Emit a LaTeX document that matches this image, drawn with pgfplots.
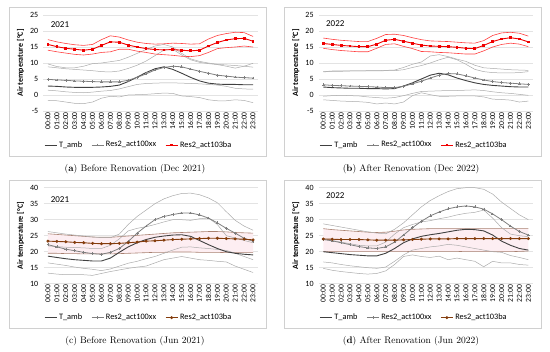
\documentclass[border=0pt]{standalone}
\usepackage{fontspec}
\usepackage{pgfplots}
\pgfplotsset{compat=1.18}
\usepackage{pgfplotstable}
\usepgfplotslibrary{fillbetween}
\newfontfamily\cf{Carlito}
\definecolor{tambc}{HTML}{404040}
\definecolor{xxc}{HTML}{7F7F7F}
\definecolor{bandc}{HTML}{ABABAB}
\definecolor{redc}{HTML}{F00000}
\definecolor{redbandc}{HTML}{FF4040}
\definecolor{brownc}{HTML}{843C0C}
\definecolor{brownbandc}{HTML}{A88070}
\definecolor{pinkc}{HTML}{FDEEF2}
\definecolor{gridc}{HTML}{E3E3E3}
\definecolor{framec}{HTML}{D0D0D0}

% columns: h T X R RU RL G1 G2 G3 G4
\pgfplotstableread{
h T X R RU RL G1 G2 G3 G4
0 2.8 4.9 15.8 17.3 14.0 9.7 8.8 1.5 -1.7
1 2.7 4.7 15.1 16.6 13.5 8.9 8.5 1.3 -1.8
2 2.5 4.6 14.6 16.1 13.1 8.5 8.2 1.0 -2.2
3 2.4 4.4 14.3 15.7 12.7 8.5 8.0 0.8 -2.6
4 2.4 4.3 14.0 15.5 12.5 9.0 7.8 0.7 -2.7
5 2.4 4.2 14.3 15.8 12.8 9.8 7.6 0.9 -2.2
6 2.5 4.1 15.5 17.3 13.3 10.0 7.3 1.2 -1.0
7 2.7 4.1 16.6 18.5 13.5 10.4 7.2 1.4 -0.4
8 3.1 4.1 16.5 18.1 14.3 10.8 7.5 1.9 -0.6
9 4.2 4.6 15.6 17.2 14.3 11.8 8.3 2.6 0.0
10 5.6 5.5 15.0 16.5 13.7 13.0 9.3 3.3 0.1
11 7.0 6.6 14.5 16.1 13.3 14.2 10.6 3.6 0.2
12 8.2 7.8 14.2 15.9 12.8 15.3 12.3 3.7 0.4
13 8.8 8.6 14.1 16.0 12.6 15.8 14.0 3.8 0.6
14 8.0 9.0 14.2 16.2 12.4 15.0 14.3 3.8 0.5
15 6.8 8.8 14.0 16.1 12.1 13.0 12.5 3.7 -0.3
16 5.5 8.1 13.8 15.9 12.0 11.3 11.0 3.6 -0.5
17 4.4 7.4 14.0 16.0 12.3 10.5 10.2 3.5 -0.8
18 3.7 6.8 15.3 17.5 13.3 10.0 9.8 3.3 -1.5
19 3.4 6.2 16.4 18.6 14.5 9.6 9.5 3.1 -1.8
20 3.3 5.9 17.2 19.2 14.8 9.4 9.0 2.7 -1.8
21 3.3 5.6 17.6 19.6 15.0 9.2 8.4 2.1 -1.5
22 3.2 5.4 17.7 19.5 15.3 9.0 9.0 1.9 -1.7
23 3.2 5.3 16.8 18.3 15.0 8.7 9.9 1.8 -2.4
}\tA
\pgfplotstableread{
h T X R RU RL G1 G2 G3 G4
0 2.5 3.2 16.1 17.8 14.6 7.3 7.2 -0.4 -1.5
1 2.3 3.0 15.8 17.4 14.2 7.5 7.4 -0.2 -1.7
2 2.2 2.9 15.5 17.1 13.9 7.5 7.4 -0.1 -1.9
3 2.1 2.8 15.3 16.9 13.7 7.5 7.5 -0.2 -2.0
4 2.1 2.7 15.1 16.7 13.5 7.5 7.5 -0.3 -2.1
5 2.0 2.6 15.1 16.7 13.5 7.6 7.5 -0.6 -2.3
6 2.0 2.5 15.9 17.7 14.6 7.6 7.5 -0.8 -2.8
7 1.9 2.3 17.1 18.9 15.8 7.7 7.6 -1.0 -2.5
8 2.0 2.3 17.4 19.0 16.0 7.8 7.6 -0.8 -2.8
9 2.8 2.7 16.8 18.6 15.2 8.6 7.9 -0.2 -2.2
10 3.8 3.5 16.2 17.9 14.5 9.6 8.6 0.5 -0.2
11 5.0 4.3 15.6 17.3 13.6 10.3 9.2 1.1 0.7
12 6.2 5.3 15.3 16.9 13.5 12.2 10.0 1.2 0.1
13 6.8 6.2 15.2 16.8 13.3 12.6 11.0 1.3 -0.4
14 6.3 6.7 15.1 16.7 13.2 12.0 11.8 1.4 -0.4
15 5.3 6.6 14.9 16.5 13.0 11.2 11.0 1.4 -0.3
16 4.5 6.0 14.6 16.3 12.8 10.5 9.6 1.5 -0.3
17 3.8 5.3 14.5 16.2 12.8 9.3 8.0 1.6 -0.3
18 3.3 4.7 15.5 17.0 13.8 8.5 7.3 1.4 -0.6
19 3.0 4.2 16.7 18.6 15.0 8.3 7.0 1.0 -1.3
20 2.8 3.9 17.5 19.4 15.8 8.1 6.9 0.7 -1.4
21 2.6 3.7 17.9 19.6 16.2 7.9 6.9 0.5 -1.6
22 2.5 3.5 17.5 19.3 15.9 7.8 7.0 0.2 -2.2
23 2.5 3.3 16.6 18.4 15.1 7.7 7.3 -0.1 -1.9
}\tB
\pgfplotstableread{
h T X R RU RL G1 G2 G3 G4
0 18.6 22.2 23.3 25.6 19.5 26.3 21.8 16.5 13.3
1 18.2 21.5 23.2 25.4 19.5 25.9 21.6 16.1 13.0
2 17.8 20.8 23.1 25.2 19.4 25.5 21.4 15.7 12.8
3 17.5 20.3 22.9 25.0 19.4 25.2 21.3 15.2 12.8
4 17.3 19.8 22.8 24.8 19.3 24.9 21.2 14.8 12.8
5 17.1 19.4 22.6 24.6 19.3 24.6 21.0 14.5 12.6
6 17.1 19.2 22.5 24.5 19.3 24.4 21.0 14.1 13.2
7 18.0 19.8 22.5 24.5 19.3 24.4 22.0 14.6 13.8
8 19.8 21.0 22.6 24.7 19.4 25.5 24.0 15.5 14.3
9 21.5 23.2 22.8 24.9 19.5 28.5 26.5 16.4 14.8
10 22.8 25.8 23.0 25.1 19.6 31.0 27.3 17.0 15.2
11 23.8 28.0 23.3 25.3 19.7 33.0 27.8 17.8 15.5
12 24.5 30.0 23.4 25.5 19.8 35.0 28.5 18.5 16.5
13 24.9 31.0 23.6 25.7 19.8 36.5 29.3 19.5 17.5
14 25.2 31.6 23.8 25.9 19.9 37.5 30.0 20.5 18.0
15 25.3 32.1 23.9 26.0 19.9 38.2 30.0 21.4 18.5
16 24.8 32.1 24.0 26.1 19.9 38.3 29.8 21.5 18.0
17 23.5 31.5 24.1 26.2 19.8 37.8 30.3 21.2 17.5
18 22.2 30.5 24.2 26.3 19.8 36.8 30.5 21.0 17.3
19 21.0 29.0 24.2 26.3 19.8 35.3 28.5 20.7 17.0
20 20.0 27.3 24.1 26.2 19.7 32.5 25.0 20.4 16.8
21 19.5 25.8 24.0 26.0 19.7 29.8 24.3 19.5 15.5
22 19.2 24.2 23.9 25.9 19.7 28.0 23.5 18.5 14.5
23 19.0 23.3 23.7 25.8 19.7 26.7 22.8 17.5 13.5
}\tC
\pgfplotstableread{
h T X R RU RL G1 G2 G3 G4
0 20.0 23.8 24.0 27.2 20.0 28.7 24.0 16.8 14.8
1 19.7 23.4 23.9 26.9 20.0 28.2 23.5 16.5 14.2
2 19.4 22.8 23.8 26.7 20.0 27.7 23.0 16.0 13.8
3 19.1 22.2 23.8 26.5 20.0 27.2 22.5 15.6 13.5
4 18.9 21.6 23.8 26.3 20.0 26.7 22.0 15.3 13.2
5 18.7 21.2 23.7 26.1 20.0 26.2 21.8 15.0 13.0
6 18.7 21.0 23.6 26.0 20.0 25.8 21.8 14.8 13.2
7 19.5 21.5 23.6 26.1 20.0 25.6 23.0 15.2 14.0
8 21.0 23.0 23.6 26.4 20.0 27.0 25.5 17.0 16.0
9 22.8 25.2 23.7 26.8 20.0 29.0 27.5 19.0 18.5
10 24.0 27.5 23.8 27.0 20.1 31.5 28.5 20.5 19.0
11 24.8 29.5 23.9 27.1 20.1 34.0 29.3 21.0 18.5
12 25.3 31.2 24.0 27.2 20.1 36.0 29.7 21.5 18.2
13 25.7 32.4 24.0 27.2 20.1 37.5 30.3 21.8 18.6
14 26.2 33.4 24.0 27.2 20.1 38.8 30.8 22.3 17.5
15 26.7 34.0 24.1 27.2 20.1 39.7 31.5 22.0 18.0
16 27.0 34.3 24.1 27.2 20.0 40.0 32.0 21.5 17.5
17 26.9 34.0 24.1 27.2 20.0 40.0 32.3 21.0 17.0
18 26.5 33.3 24.1 27.2 20.0 39.5 33.0 20.5 15.3
19 25.2 31.8 24.1 27.2 20.0 38.0 30.5 20.0 17.0
20 23.3 30.0 24.1 27.2 20.0 35.5 27.5 19.8 16.5
21 22.0 28.0 24.1 27.2 20.0 33.5 25.5 18.8 16.5
22 21.0 26.3 24.1 27.2 20.1 31.5 25.0 18.2 16.0
23 20.5 25.2 24.1 27.2 20.2 30.0 24.7 17.5 15.8
}\tD

\tikzset{yearlab/.style={font=\cf\fontsize{9bp}{10bp}\selectfont, anchor=west, inner sep=0pt},
  caplab/.style={font=\fontsize{9.5bp}{11bp}\selectfont, inner sep=0pt}}
\pgfplotsset{
  common/.style={
    scale only axis, width=214bp, height=96bp,
    xmin=-0.5, xmax=23.5,
    xtick={0,...,23},
    xticklabels={00:00,01:00,02:00,03:00,04:00,05:00,06:00,07:00,08:00,09:00,10:00,11:00,12:00,13:00,14:00,15:00,16:00,17:00,18:00,19:00,20:00,21:00,22:00,23:00},
    xticklabel style={rotate=90, anchor=east, font=\cf\fontsize{7.6bp}{8bp}\selectfont, inner sep=1bp},
    yticklabel style={font=\cf\fontsize{8bp}{9bp}\selectfont, inner sep=1bp, xshift=-4bp},
    /pgf/number format/assume math mode=true,
    ymajorgrids, grid style={color=gridc, line width=0.6bp},
    axis line style={draw=none},
    major tick length=0pt,
    ylabel={Air temperature [°C]},
    ylabel style={font=\cf\bfseries\fontsize{8bp}{9bp}\selectfont, at={(axis description cs:-0.107,0.5)}, anchor=center},
    legend columns=3,
    legend style={draw=none, fill=none, at={(0.445,-0.354)}, anchor=center,
      font=\cf\fontsize{8.3bp}{9bp}\selectfont, inner sep=0pt,
      /tikz/every even column/.append style={column sep=7bp}},
    legend cell align=left,
    legend image code/.code={\draw[mark repeat=2,mark phase=2,##1] plot coordinates {(0bp,0bp) (6bp,0bp) (12bp,0bp)};},
  },
  tamb/.style={color=tambc, line width=0.9bp, mark=none},
  xx/.style={color=xxc, line width=0.8bp, mark=+, mark size=1.4bp, mark options={line width=0.5bp}},
  band/.style={color=bandc, line width=0.5bp, forget plot, mark=none},
  redl/.style={color=redc, line width=0.9bp, mark=square*, mark size=0.9bp},
  redband/.style={color=redbandc, line width=0.6bp, forget plot, mark=none},
  brownl/.style={color=brownc, line width=0.9bp, mark=*, mark size=1.0bp},
  brownband/.style={color=brownbandc, line width=0.6bp, forget plot, mark=none},
}

\begin{document}
\begin{tikzpicture}
% frames
\draw[framec, line width=0.6bp] (9.3bp,344.7bp) rectangle (266.7bp,196bp);
\draw[framec, line width=0.6bp] (284.3bp,344.7bp) rectangle (541.7bp,196bp);
\draw[framec, line width=0.6bp] (9.3bp,172bp) rectangle (266.7bp,23.7bp);
\draw[framec, line width=0.6bp] (284.3bp,172bp) rectangle (541.7bp,23.7bp);

% (a)
\begin{axis}[common, at={(43.5bp,241bp)}, anchor=south west, ymin=-5, ymax=25, ytick={-5,0,5,10,15,20,25}]
\addplot[band] table[x=h,y=G1]{\tA};
\addplot[band] table[x=h,y=G2]{\tA};
\addplot[band] table[x=h,y=G3]{\tA};
\addplot[band] table[x=h,y=G4]{\tA};
\addplot[redband] table[x=h,y=RU]{\tA};
\addplot[redband] table[x=h,y=RL]{\tA};
\addplot[tamb] table[x=h,y=T]{\tA}; \addlegendentry{T\_amb}
\addplot[xx] table[x=h,y=X]{\tA}; \addlegendentry{Res2\_act100xx}
\addplot[redl] table[x=h,y=R]{\tA}; \addlegendentry{Res2\_act103ba}
\node[yearlab] at (axis cs:0.3,22.1) {2021};
\end{axis}

% (b)
\begin{axis}[common, at={(318.8bp,241bp)}, anchor=south west, ymin=-5, ymax=25, ytick={-5,0,5,10,15,20,25}]
\addplot[band] table[x=h,y=G1]{\tB};
\addplot[band] table[x=h,y=G2]{\tB};
\addplot[band] table[x=h,y=G3]{\tB};
\addplot[band] table[x=h,y=G4]{\tB};
\addplot[redband] table[x=h,y=RU]{\tB};
\addplot[redband] table[x=h,y=RL]{\tB};
\addplot[tamb] table[x=h,y=T]{\tB}; \addlegendentry{T\_amb}
\addplot[xx] table[x=h,y=X]{\tB}; \addlegendentry{Res2\_act100xx}
\addplot[redl] table[x=h,y=R]{\tB}; \addlegendentry{Res2\_act103ba}
\node[yearlab] at (axis cs:0.3,22.2) {2022};
\end{axis}

% (c)
\begin{axis}[common, at={(43.5bp,68.3bp)}, anchor=south west, ymin=10, ymax=40, ytick={10,15,20,25,30,35,40}]
\addplot[brownband, name path=ruc] table[x=h,y=RU]{\tC};
\addplot[brownband, name path=rlc] table[x=h,y=RL]{\tC};
\addplot[pinkc, forget plot] fill between[of=ruc and rlc];
\addplot[band] table[x=h,y=G1]{\tC};
\addplot[band] table[x=h,y=G2]{\tC};
\addplot[band] table[x=h,y=G3]{\tC};
\addplot[band] table[x=h,y=G4]{\tC};
\addplot[tamb] table[x=h,y=T]{\tC}; \addlegendentry{T\_amb}
\addplot[xx] table[x=h,y=X]{\tC}; \addlegendentry{Res2\_act100xx}
\addplot[brownl] table[x=h,y=R]{\tC}; \addlegendentry{Res2\_act103ba}
\node[yearlab] at (axis cs:0.3,36.3) {2021};
\end{axis}

% (d)
\begin{axis}[common, at={(318.8bp,68.3bp)}, anchor=south west, ymin=10, ymax=40, ytick={10,15,20,25,30,35,40}]
\addplot[brownband, name path=rud] table[x=h,y=RU]{\tD};
\addplot[brownband, name path=rld] table[x=h,y=RL]{\tD};
\addplot[pinkc, forget plot] fill between[of=rud and rld];
\addplot[band] table[x=h,y=G1]{\tD};
\addplot[band] table[x=h,y=G2]{\tD};
\addplot[band] table[x=h,y=G3]{\tD};
\addplot[band] table[x=h,y=G4]{\tD};
\addplot[tamb] table[x=h,y=T]{\tD}; \addlegendentry{T\_amb}
\addplot[xx] table[x=h,y=X]{\tD}; \addlegendentry{Res2\_act100xx}
\addplot[brownl] table[x=h,y=R]{\tD}; \addlegendentry{Res2\_act103ba}
\node[yearlab] at (axis cs:0.3,37.4) {2022};
\end{axis}

% captions
\node[caplab] at (135bp,183bp) {(\textbf{a}) Before Renovation (Dec 2021)};
\node[caplab] at (411bp,183bp) {(\textbf{b}) After Renovation (Dec 2022)};
\node[caplab] at (135bp,11bp) {(c) Before Renovation (Jun 2021)};
\node[caplab] at (411bp,11bp) {(\textbf{d}) After Renovation (Jun 2022)};
\pgfresetboundingbox
\useasboundingbox (0,0) rectangle (550bp,352bp);
\end{tikzpicture}
\end{document}
